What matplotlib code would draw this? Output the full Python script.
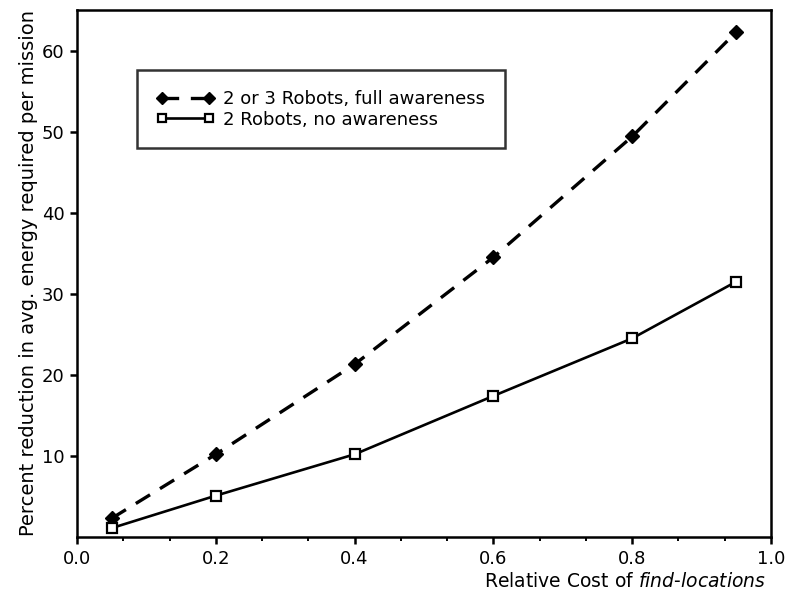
import matplotlib
matplotlib.use("Agg")
import matplotlib.pyplot as plt
from matplotlib.ticker import MultipleLocator

plt.rcParams['font.family'] = ['DejaVu Sans']
plt.rcParams['mathtext.fontset'] = 'dejavusans'

x_cost = [0.05, 0.2, 0.4, 0.6, 0.8, 0.95]
full_awareness = [2.3, 10.2, 21.3, 34.5, 49.4, 62.3]
no_awareness = [1.1, 5.1, 10.2, 17.4, 24.5, 31.5]
x_ticks = [0.0, 0.2, 0.4, 0.6, 0.8, 1.0]
y_ticks = [10, 20, 30, 40, 50, 60]

fig = plt.figure(figsize=(7.85, 5.95), dpi=100)
ax = fig.add_axes([77/785, 1 - 537/595, (771-77)/785, (537-10)/595])

ax.plot(x_cost, full_awareness, color='black', linestyle=(0, (5, 3.5)), linewidth=2.4,
        marker='D', markersize=7.5, markerfacecolor='black', markeredgecolor='black',
        label='2 or 3 Robots, full awareness')
ax.plot(x_cost, no_awareness, color='black', linestyle='-', linewidth=1.9,
        marker='s', markersize=6.5, markerfacecolor='white', markeredgecolor='black',
        markeredgewidth=1.6, label='2 Robots, no awareness')

ax.set_xlim(0.0, 1.0)
ax.set_ylim(0, 65)
ax.set_xticks(x_ticks)
ax.set_xticklabels([f"{v:.1f}" for v in x_ticks])
ax.set_yticks(y_ticks)
ax.xaxis.set_minor_locator(MultipleLocator(0.2/3))
ax.tick_params(axis='both', which='major', direction='out', length=5, width=1.8, labelsize=13, pad=4)
ax.tick_params(axis='x', which='minor', direction='out', length=3, width=1.4)
for s in ax.spines.values():
    s.set_linewidth(1.8)

ax.set_ylabel('Percent reduction in avg. energy required per mission', fontsize=14, labelpad=3)
ax.set_xlabel('Relative Cost of $\\it{find}$-$\\it{locations}$', fontsize=13.5, loc='right', labelpad=3)
ax.xaxis.label.set_x(0.993)

leg = ax.legend(loc='upper left', bbox_to_anchor=((137-77)/694, 1 - (70-10)/527),
                frameon=True, fancybox=False, edgecolor='black', fontsize=13,
                handlelength=3.2, handletextpad=0.45, numpoints=2, markerscale=0.8,
                borderpad=1.1, labelspacing=0.15, borderaxespad=0)
leg.get_frame().set_linewidth(1.8)

fig.savefig('out.png', dpi=100)
